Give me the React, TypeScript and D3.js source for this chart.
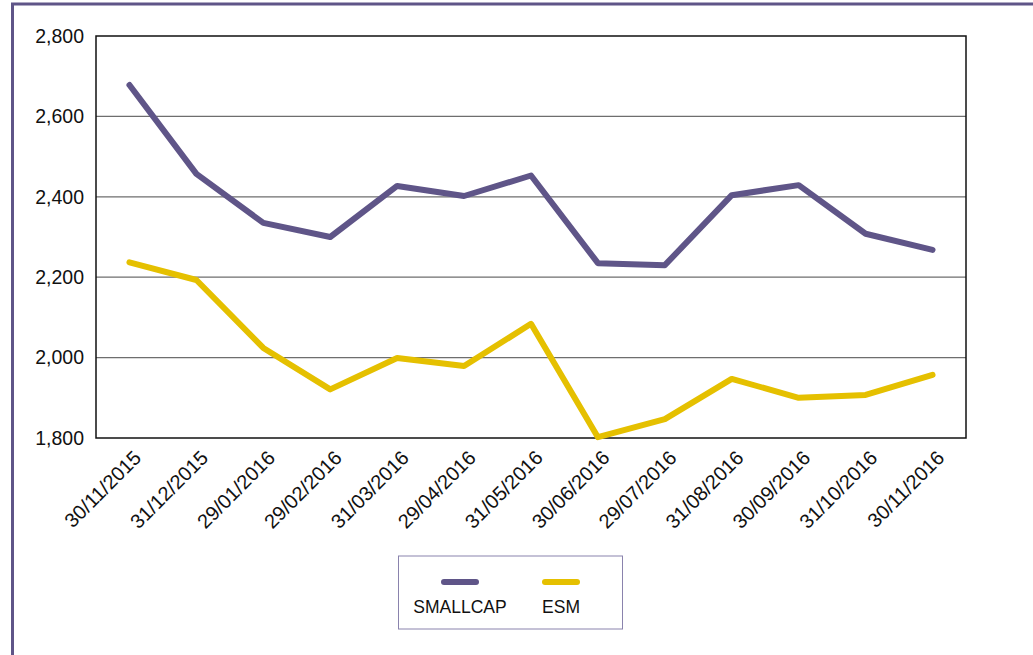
import React from "react";
import * as d3 from "d3";

const categories = [
  "30/11/2015", "31/12/2015", "29/01/2016", "29/02/2016", "31/03/2016", "29/04/2016",
  "31/05/2016", "30/06/2016", "29/07/2016", "31/08/2016", "30/09/2016", "31/10/2016", "30/11/2016",
];
const smallcap = [2678, 2457, 2335, 2300, 2427, 2402, 2453, 2235, 2230, 2404, 2429, 2308, 2268];
const esm = [2237, 2193, 2024, 1921, 1999, 1979, 2084, 1802, 1847, 1947, 1900, 1907, 1957];
const yTicks = [1800, 2000, 2200, 2400, 2600, 2800];
const seriesNames = ["SMALLCAP", "ESM"];

const W = 1033, H = 655;
const plot = { left: 96, top: 36, right: 966, bottom: 438 };
const PURPLE = "#5f5588";
const YELLOW = "#e5c000";
const FONT = "'Liberation Sans', Arial, sans-serif";

export default function App() {
  const x = d3.scaleBand<string>().domain(categories).range([plot.left, plot.right]);
  const y = d3.scaleLinear().domain([1800, 2800]).range([plot.bottom, plot.top]);
  const cx = (c: string) => (x(c) as number) + x.bandwidth() / 2;
  const line = d3.line<number>().x((_, i) => cx(categories[i])).y((v) => y(v));
  const fmt = d3.format(",");
  const series = [
    { name: seriesNames[0], values: smallcap, color: PURPLE },
    { name: seriesNames[1], values: esm, color: YELLOW },
  ];
  return (
    <svg width={W} height={H} style={{ position: "absolute", left: 0, top: 0, background: "#fff" }}>
      <rect x={12.5} y={4} width={1100} height={800} fill="#fff" stroke={PURPLE} strokeWidth={3} />
      {yTicks.slice(1, -1).map((t) => (
        <line key={t} x1={plot.left} x2={plot.right} y1={y(t)} y2={y(t)} stroke="#6e6e6e" strokeWidth={1.3} />
      ))}
      <rect x={plot.left} y={plot.top} width={plot.right - plot.left} height={plot.bottom - plot.top}
        fill="none" stroke="#111" strokeWidth={1.5} />
      {yTicks.map((t) => (
        <text key={t} x={84} y={y(t)} dy="0.35em" textAnchor="end" fontFamily={FONT} fontSize={19.5} fill="#111">
          {fmt(t)}
        </text>
      ))}
      {categories.map((c) => {
        const px = cx(c) + 13, py = plot.bottom + 21;
        return (
          <text key={c} x={px} y={py} transform={`rotate(-45 ${px} ${py})`} textAnchor="end"
            fontFamily={FONT} fontSize={20} fill="#111">
            {c}
          </text>
        );
      })}
      {series.map((s) => (
        <path key={s.name} d={line(s.values) as string} fill="none" stroke={s.color} strokeWidth={6}
          strokeLinecap="round" strokeLinejoin="round" />
      ))}
      <rect x={398.5} y={556} width={224} height={73} fill="#fff" stroke="#8a83ad" strokeWidth={1} />
      {series.map((s, i) => {
        const lx = i === 0 ? 460 : 561;
        return (
          <g key={s.name}>
            <line x1={lx - 16} x2={lx + 16} y1={582} y2={582} stroke={s.color} strokeWidth={6} strokeLinecap="round" />
            <text x={lx} y={613} textAnchor="middle" fontFamily={FONT} fontSize={17.5} fill="#111">
              {s.name}
            </text>
          </g>
        );
      })}
    </svg>
  );
}
